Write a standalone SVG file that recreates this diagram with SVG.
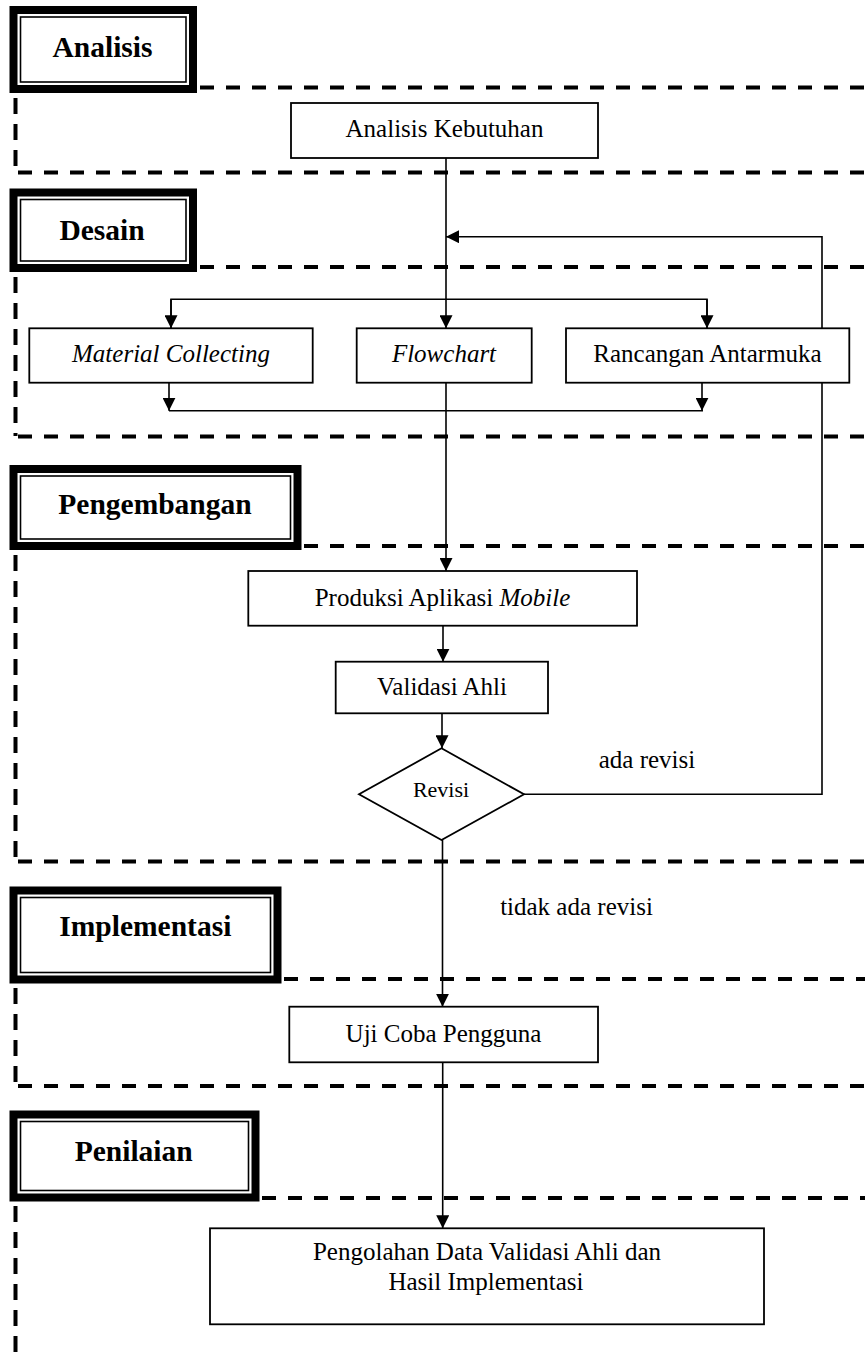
<svg xmlns="http://www.w3.org/2000/svg" width="865" height="1359" viewBox="0 0 865 1359">
<style>
.bg{fill:#fff}
.hdo{fill:#fff;stroke:#000;stroke-width:8}
.hdi{fill:none;stroke:#000;stroke-width:1.6}
.ht{font-family:"Liberation Serif","Times New Roman",serif;font-weight:bold;font-size:29.5px;text-anchor:middle;fill:#000}
.box{fill:#fff;stroke:#000;stroke-width:1.8}
.t{font-family:"Liberation Serif","Times New Roman",serif;font-size:25px;text-anchor:middle;fill:#000}
.it{font-style:italic}
.dh{fill:none;stroke:#000;stroke-width:4;stroke-dasharray:14 12}
.dv{fill:none;stroke:#000;stroke-width:4;stroke-dasharray:16 10}
.c{fill:none;stroke:#000;stroke-width:1.6}
.ca{fill:none;stroke:#000;stroke-width:1.6;marker-end:url(#ah)}
</style>
<defs>
<marker id="ah" markerUnits="userSpaceOnUse" markerWidth="13" markerHeight="13" viewBox="0 0 13 13" refX="13" refY="6.5" orient="auto"><path d="M0,0L13,6.5L0,13z" fill="#000"/></marker>
</defs>
<rect class="bg" x="0" y="0" width="865" height="1359"/>

<g id="swimlanes">
<line class="dh" x1="200" y1="87.5" x2="865" y2="87.5"/>
<line class="dv" x1="15.5" y1="98" x2="15.5" y2="172"/>
<line class="dh" x1="18" y1="172.5" x2="865" y2="172.5"/>

<line class="dh" x1="200" y1="267" x2="865" y2="267"/>
<line class="dv" x1="15.5" y1="277" x2="15.5" y2="436"/>
<line class="dh" x1="18" y1="436.5" x2="865" y2="436.5"/>

<line class="dh" x1="304" y1="546" x2="865" y2="546"/>
<line class="dv" x1="15.5" y1="555" x2="15.5" y2="861"/>
<line class="dh" x1="18" y1="861.5" x2="865" y2="861.5"/>

<line class="dh" x1="284" y1="979" x2="865" y2="979"/>
<line class="dv" x1="15.5" y1="988" x2="15.5" y2="1085"/>
<line class="dh" x1="18" y1="1086" x2="865" y2="1086"/>

<line class="dh" x1="262" y1="1198" x2="865" y2="1198"/>
<line class="dv" x1="15.5" y1="1206" x2="15.5" y2="1359"/>
</g>

<g id="connectors">
<line class="ca" x1="446" y1="158" x2="446" y2="328.3"/>
<polyline class="c" points="171,328.3 171,299.3 707,299.3 707,328.3"/>
<line class="ca" x1="171" y1="299.3" x2="171" y2="328.3"/>
<line class="ca" x1="707" y1="299.3" x2="707" y2="328.3"/>
<line class="ca" x1="169" y1="383" x2="169" y2="410.7"/>
<line class="ca" x1="702" y1="383" x2="702" y2="410.7"/>
<line class="c" x1="169" y1="410.7" x2="703" y2="410.7"/>
<line class="ca" x1="446" y1="383" x2="446" y2="571"/>
<line class="ca" x1="443" y1="626" x2="443" y2="661.7"/>
<line class="ca" x1="442" y1="713.3" x2="442" y2="748.3"/>
<polyline class="ca" points="524,794.3 822,794.3 822,236.7 446,236.7"/>
<line class="ca" x1="442.5" y1="840" x2="442.5" y2="1006.7"/>
<line class="ca" x1="442.7" y1="1062.3" x2="442.7" y2="1228.3"/>
<text class="t" x="647" y="768.3">ada revisi</text>
<text class="t" x="576.5" y="915">tidak ada revisi</text>
</g>

<g id="hdr-analisis">
<rect class="hdo" x="13.5" y="10" width="179.5" height="79"/>
<rect class="hdi" x="20.5" y="17" width="165.5" height="65"/>
<text class="ht" x="102.5" y="57">Analisis</text>
</g>
<g id="hdr-desain">
<rect class="hdo" x="13.5" y="192.5" width="179.5" height="75.5"/>
<rect class="hdi" x="20.5" y="199.5" width="165.5" height="61.5"/>
<text class="ht" x="102" y="240">Desain</text>
</g>
<g id="hdr-pengembangan">
<rect class="hdo" x="13.5" y="469" width="284" height="77"/>
<rect class="hdi" x="20.5" y="476" width="270" height="63"/>
<text class="ht" x="155" y="514">Pengembangan</text>
</g>
<g id="hdr-implementasi">
<rect class="hdo" x="13.5" y="890.5" width="264" height="89"/>
<rect class="hdi" x="20.5" y="897.5" width="250" height="75"/>
<text class="ht" x="145.3" y="936">Implementasi</text>
</g>
<g id="hdr-penilaian">
<rect class="hdo" x="13.5" y="1114.5" width="242" height="83"/>
<rect class="hdi" x="20.5" y="1121.5" width="228" height="69"/>
<text class="ht" x="133.7" y="1161">Penilaian</text>
</g>

<g id="analisis-kebutuhan">
<rect class="box" x="291" y="103" width="307" height="55"/>
<text class="t" x="444.5" y="137">Analisis Kebutuhan</text>
</g>
<g id="material-collecting">
<rect class="box" x="29.3" y="328.3" width="283.4" height="54.4"/>
<text class="t it" x="171" y="361.7">Material Collecting</text>
</g>
<g id="flowchart">
<rect class="box" x="356.7" y="328.3" width="175" height="54.4"/>
<text class="t it" x="444" y="361.7">Flowchart</text>
</g>
<g id="rancangan-antarmuka">
<rect class="box" x="566" y="328.3" width="283.3" height="54.4"/>
<text class="t" x="707.5" y="361.7">Rancangan Antarmuka</text>
</g>
<g id="produksi">
<rect class="box" x="248.3" y="571" width="388.7" height="54.7"/>
<text class="t" x="442.5" y="606">Produksi Aplikasi <tspan class="it">Mobile</tspan></text>
</g>
<g id="validasi-ahli">
<rect class="box" x="335.7" y="661.7" width="212.3" height="51.6"/>
<text class="t" x="442" y="695">Validasi Ahli</text>
</g>
<g id="revisi">
<polygon class="box" points="441.5,748.3 524,794.3 441.5,840 359,794.3"/>
<text class="t" style="font-size:22px" x="441" y="796.7">Revisi</text>
</g>
<g id="uji-coba">
<rect class="box" x="289.3" y="1006.7" width="308.7" height="55.6"/>
<text class="t" x="443.5" y="1041.7">Uji Coba Pengguna</text>
</g>
<g id="pengolahan">
<rect class="box" x="210" y="1228.3" width="554" height="96"/>
<text class="t" x="487" y="1260">Pengolahan Data Validasi Ahli dan</text>
<text class="t" x="486" y="1290">Hasil Implementasi</text>
</g>
</svg>
